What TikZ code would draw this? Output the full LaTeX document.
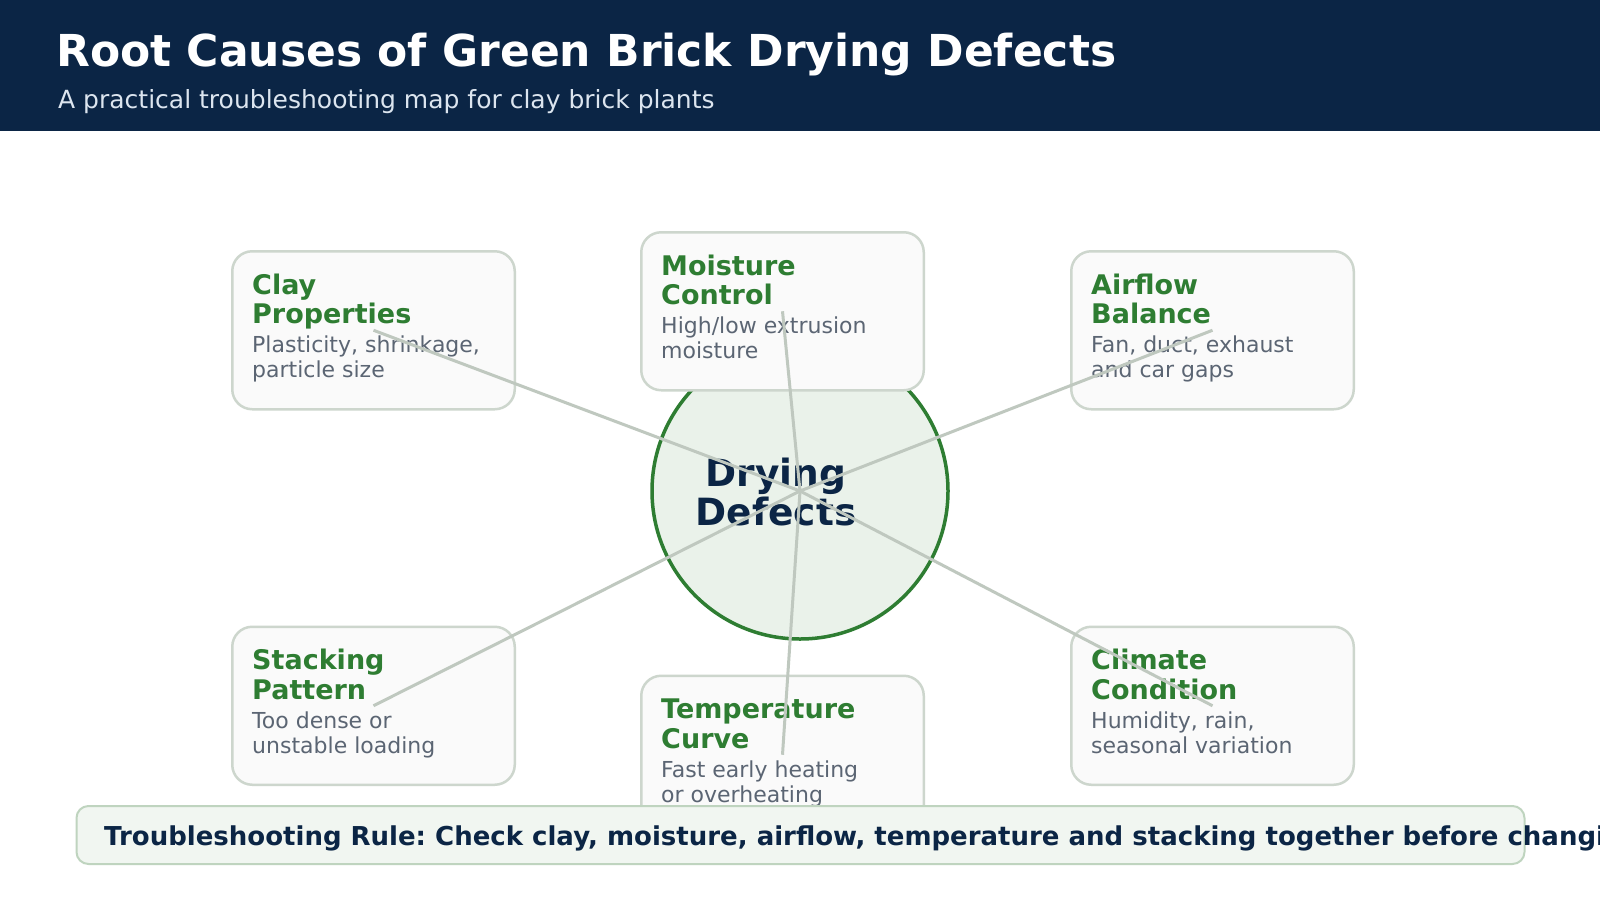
\documentclass[tikz,border=0pt]{standalone}
\usepackage{fontspec}
\setmainfont{DejaVu Sans}
\frenchspacing
\definecolor{navy}{HTML}{0B2545}
\definecolor{subt}{HTML}{DCE5EF}
\definecolor{grn}{HTML}{2E7D32}
\definecolor{hubfill}{HTML}{EAF2EA}
\definecolor{cardfill}{HTML}{FAFAFA}
\definecolor{cardline}{HTML}{CDD6CD}
\definecolor{linkc}{HTML}{BFC8BF}
\definecolor{desc}{HTML}{5B6573}
\definecolor{rulefill}{HTML}{F1F6F1}
\definecolor{ruleline}{HTML}{BFD4BF}
\tikzset{
  card/.style={draw=cardline, line width=2.5pt, fill=cardfill, rounded corners=20pt,
    minimum width=282.5pt, minimum height=158pt, inner sep=0pt, anchor=north west},
  ttl/.style={anchor=base west, inner sep=0pt, text=grn, font=\fontsize{27}{30}\selectfont\bfseries},
  dsc/.style={anchor=base west, inner sep=0pt, text=desc, font=\fontsize{22}{25}\selectfont},
  link/.style={draw=linkc, line width=3pt},
}
\begin{document}
\begin{tikzpicture}[x=1pt,y=-1pt]
\clip (0,0) rectangle (1600,900);
\fill[white] (0,0) rectangle (1600,900);
\fill[navy] (0,0) rectangle (1600,130.5);
\node[anchor=base west, inner sep=0pt, text=white, font=\fontsize{44}{50}\selectfont\bfseries] (title) at (56,66) {Root Causes of Green Brick Drying Defects};
\node[anchor=base west, inner sep=0pt, text=subt, font=\fontsize{25}{30}\selectfont] (subtitle) at (58,108) {A practical troubleshooting map for clay brick plants};
% hub
\node[circle, draw=grn, line width=3.5pt, fill=hubfill, minimum size=296pt, inner sep=0pt] (hub) at (800,491) {};
\node[anchor=base, inner sep=0pt, text=navy, font=\fontsize{37.5}{40}\selectfont\bfseries] (hubt1) at (776,486.5) {Drying};
\node[anchor=base, inner sep=0pt, text=navy, font=\fontsize{37.5}{40}\selectfont\bfseries] (hubt2) at (776,525) {Defects};
% cards
\node[card] (clay) at (231,250) {};
\node[ttl] (clayt1) at (252,294) {Clay};
\node[ttl] (clayt2) at (252,323.5) {Properties};
\node[dsc] (clayd1) at (252,352.5) {Plasticity, shrinkage,};
\node[dsc] (clayd2) at (252,377.5) {particle size};
\node[card] (moist) at (640,231) {};
\node[ttl] (moistt1) at (661,275) {Moisture};
\node[ttl] (moistt2) at (661,304.5) {Control};
\node[dsc] (moistd1) at (661,333.5) {High/low extrusion};
\node[dsc] (moistd2) at (661,358.5) {moisture};
\node[card] (air) at (1070,250) {};
\node[ttl] (airt1) at (1091,294) {Airflow};
\node[ttl] (airt2) at (1091,323.5) {Balance};
\node[dsc] (aird1) at (1091,352.5) {Fan, duct, exhaust};
\node[dsc] (aird2) at (1091,377.5) {and car gaps};
\node[card] (stack) at (231,625.5) {};
\node[ttl] (stackt1) at (252,669.5) {Stacking};
\node[ttl] (stackt2) at (252,699) {Pattern};
\node[dsc] (stackd1) at (252,728) {Too dense or};
\node[dsc] (stackd2) at (252,753) {unstable loading};
\node[card] (temp) at (640,674.5) {};
\node[ttl] (tempt1) at (661,718.5) {Temperature};
\node[ttl] (tempt2) at (661,748) {Curve};
\node[dsc] (tempd1) at (661,777) {Fast early heating};
\node[dsc] (tempd2) at (661,802) {or overheating};
\node[card] (clim) at (1070,625.5) {};
\node[ttl] (climt1) at (1091,669.5) {Climate};
\node[ttl] (climt2) at (1091,699) {Condition};
\node[dsc] (climd1) at (1091,728) {Humidity, rain,};
\node[dsc] (climd2) at (1091,753) {seasonal variation};
% connectors
\draw[link] (clay.center) -- (hub.center);
\draw[link] (moist.center) -- (hub.center);
\draw[link] (air.center) -- (hub.center);
\draw[link] (stack.center) -- (hub.center);
\draw[link] (temp.center) -- (hub.center);
\draw[link] (clim.center) -- (hub.center);
% rule
\node[draw=ruleline, line width=2pt, fill=rulefill, rounded corners=12pt, anchor=north west,
  minimum width=1448pt, minimum height=58pt, inner sep=0pt] (rule) at (75.5,805) {};
\node[anchor=base west, inner sep=0pt, text=navy, font=\fontsize{26}{30}\selectfont\bfseries] (rulet) at (104,845) {Troubleshooting Rule: Check clay, moisture, airflow, temperature and stacking together before changing};
\end{tikzpicture}
\end{document}
